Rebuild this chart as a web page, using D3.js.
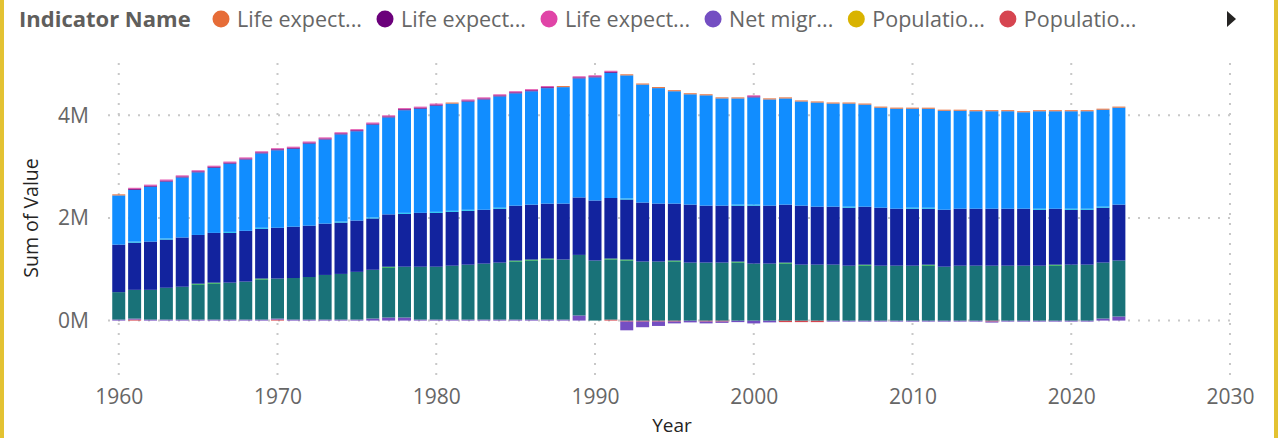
<!DOCTYPE html>
<html>
<head>
<meta charset="utf-8">
<script src="https://cdn.jsdelivr.net/npm/d3@7"></script>
<style>
  html, body { margin: 0; padding: 0; background: #fff; }
  svg { display: block; font-family: "Segoe UI", "Open Sans", sans-serif; }
</style>
</head>
<body>
<div class="canvas"></div>
<script>
// Data (values in millions unless noted)
const years = d3.range(1960, 2024);

const teal = [0.535,0.56,0.58,0.62,0.64,0.68,0.70,0.72,0.74,0.78,
  0.78,0.81,0.83,0.87,0.89,0.93,0.95,0.97,0.99,1.03,
  1.03,1.05,1.07,1.09,1.11,1.13,1.15,1.17,1.17,1.18,
  1.17,1.17,1.17,1.15,1.15,1.15,1.13,1.13,1.13,1.13,
  1.11,1.11,1.11,1.09,1.09,1.09,1.07,1.07,1.07,1.07,
  1.07,1.07,1.05,1.07,1.07,1.07,1.07,1.07,1.07,1.07,
  1.09,1.09,1.09,1.09];

const darkBlue = [0.925,0.92,0.94,0.94,0.96,0.95,0.97,0.97,0.99,0.97,
  0.99,1.00,1.00,1.00,1.00,1.00,1.00,1.02,1.03,1.05,
  1.05,1.05,1.05,1.05,1.05,1.07,1.07,1.07,1.09,1.12,
  1.17,1.18,1.17,1.15,1.13,1.11,1.13,1.11,1.11,1.09,
  1.13,1.13,1.13,1.15,1.13,1.13,1.13,1.13,1.13,1.11,
  1.11,1.09,1.11,1.11,1.11,1.11,1.11,1.11,1.09,1.09,
  1.07,1.07,1.07,1.09];

const blue = [0.96,1.01,1.07,1.11,1.17,1.22,1.27,1.33,1.39,1.45,
  1.51,1.52,1.60,1.64,1.70,1.74,1.81,1.89,2.00,2.03,
  2.07,2.09,2.11,2.15,2.17,2.19,2.21,2.25,2.27,2.32,
  2.40,2.44,2.40,2.30,2.25,2.19,2.15,2.15,2.09,2.07,
  2.09,2.07,2.07,2.03,2.03,2.01,2.01,1.99,1.95,1.95,
  1.93,1.93,1.93,1.91,1.90,1.90,1.90,1.88,1.90,1.90,
  1.90,1.90,1.89,1.89];

const netMigration = [0.004,0.004,0.004,0.004,0.004,0.004,0.004,0.004,0.004,0.004,
  0.004,0.004,0.004,0.004,0.004,0.004,0.04,0.06,0.06,0.004,
  0.004,0.004,0.004,0.004,0.004,0.004,0.004,0.004,0.004,0.10,
  0,0,-0.17,-0.11,-0.085,-0.035,-0.035,-0.035,-0.025,-0.03,
  -0.055,-0.035,0,0,0,-0.004,-0.004,-0.004,-0.004,-0.004,
  -0.004,-0.004,-0.004,-0.004,-0.004,-0.004,-0.004,-0.004,-0.004,-0.004,
  -0.004,-0.004,0.04,0.08];

const popGrowth = [0,0.004,0,0,0,0,0,0,0,0,
  0.004,0,0,0,0,0,0,0,0,0,
  0,0,0,0,0,0,0,0,0,0,
  0,0.004,-0.004,-0.004,-0.004,-0.004,0,-0.004,-0.004,0,
  0,0,-0.03,-0.03,-0.03,0,0,0,0,0,
  0,0,0,0,0,-0.004,0,0,0,0,
  0,0,0,0];

const green = [0,0,0,0,0,0.004,0.004,0,0,0.004,
  0,0,0,0,0,0,0,0.004,0,0,
  0,0,0,0,0,0.004,0.004,0.004,0,0,
  0,0.004,0.004,0,0,0.004,0,0,0,0.004,
  0,0,0.004,0,0,0,0,0.004,0,0,
  0,0.004,0,0,0,0,0,0,0,0.004,
  0,0,0,0];

const cyan = [0,0.004,0,0.004,0,0,0,0.004,0,0.004,
  0,0,0,0,0.004,0,0.004,0,0.004,0,
  0.004,0.004,0.004,0,0.004,0,0,0,0,0,
  0,0,0.004,0,0,0,0,0,0,0.004,
  0.004,0,0,0,0,0,0.004,0,0,0,
  0.004,0.004,0,0,0,0,0,0,0.004,0,
  0.004,0.004,0.004,0];

// life expectancy (years)
const lifeExpTotal = [64.2,null,null,null,null,null,null,null,null,null,
  null,null,null,null,null,null,null,null,null,null,
  null,68.9,null,null,null,null,null,null,69.6,null,
  null,null,68.1,67.9,67.6,68.0,68.4,68.9,69.2,69.5,
  null,69.8,70.1,70.3,70.6,70.9,71.1,71.4,71.6,71.9,
  72.1,72.4,72.6,72.8,73.0,73.2,73.4,73.6,73.8,73.1,
  72.4,73.5,74.0,74.3];
const lifeExpMale = [null,62.0,62.3,62.6,62.9,63.1,63.3,63.5,63.7,63.9,
  64.0,64.2,64.4,64.6,64.8,65.0,65.1,65.3,65.5,65.6,
  65.8,null,66.0,66.2,66.4,66.5,66.7,66.8,null,66.9,
  66.8,66.5,null,null,null,null,null,null,null,null,
  66.2,null,null,null,null,null,null,null,null,null,
  null,null,null,null,null,null,null,null,null,null,
  null,null,null,null];
const lifeExpFemale = [null,68.0,68.4,68.7,69.0,69.3,69.5,69.8,70.0,70.2,
  70.4,70.6,70.8,71.0,71.2,71.4,71.5,71.7,71.9,72.0,
  72.2,null,72.4,72.5,72.7,72.8,73.0,73.1,null,73.2,
  73.1,72.9,null,null,null,null,null,null,null,null,
  73.5,null,null,null,null,null,null,null,null,null,
  null,null,null,null,null,null,null,null,null,null,
  null,null,null,null];

const legendNames = ['Life expect...','Life expect...','Life expect...','Net migr...','Populatio...','Populatio...'];
const legendColors = ['#E66C37','#6B007B','#E044A7','#744EC2','#D9B300','#D64550'];

const yTicks = [0, 2e6, 4e6];
const xTicks = [1960, 1970, 1980, 1990, 2000, 2010, 2020, 2030];

// stack order (bottom -> top); scale: multiplier to raw units
const series = [
  {values: popGrowth, color: '#D64550', scale: 1e6},
  {values: netMigration, color: '#744EC2', scale: 1e6},
  {values: teal, color: '#197278', scale: 1e6},
  {values: green, color: '#1AAB40', scale: 1e6},
  {values: darkBlue, color: '#12239E', scale: 1e6},
  {values: cyan, color: '#15C6F4', scale: 1e6},
  {values: blue, color: '#118DFF', scale: 1e6},
  {values: lifeExpTotal, color: '#E66C37', scale: 1},
  {values: lifeExpMale, color: '#6B007B', scale: 1},
  {values: lifeExpFemale, color: '#E044A7', scale: 1}
];

// Set up
const svgWidth = 1284;
const svgHeight = 438;

const svg = d3.select('.canvas')
  .append('svg')
  .attr('width', svgWidth)
  .attr('height', svgHeight);

const x = d3.scaleLinear().domain([1960, 2030]).range([118.75, 1230]);
const y = d3.scaleLinear().domain([-1e6, 5e6]).range([371.9, 64.0]);

const barWidth = 13;
const minPx = 1;

// gridlines
const grid = svg.append('g').attr('class', 'grid');
grid.selectAll('line.v')
  .data(xTicks)
  .join('line')
  .attr('class', 'v')
  .attr('x1', d => x(d)).attr('x2', d => x(d))
  .attr('y1', 63).attr('y2', 375)
  .attr('stroke', '#C8C8C8')
  .attr('stroke-width', 2)
  .attr('stroke-dasharray', '2 8');

grid.selectAll('line.h')
  .data(yTicks)
  .join('line')
  .attr('class', 'h')
  .attr('x1', 108).attr('x2', 1232)
  .attr('y1', d => y(d)).attr('y2', d => y(d))
  .attr('stroke', '#C8C8C8')
  .attr('stroke-width', 2)
  .attr('stroke-dasharray', '2 8');

// build stacked segments in pixel space (small values get a minimum height)
const segments = [];
years.forEach((yr, i) => {
  let posY = y(0);
  let negY = y(0);
  series.forEach(s => {
    const v = s.values[i];
    if (v == null || v === 0) return;
    const raw = v * s.scale;
    const h = Math.max(Math.abs(y(raw) - y(0)), minPx);
    if (raw > 0) {
      segments.push({year: yr, y: posY - h, h: h, color: s.color});
      posY -= h;
    } else {
      segments.push({year: yr, y: negY, h: h, color: s.color});
      negY += h;
    }
  });
});

svg.append('g').attr('class', 'bars')
  .selectAll('rect')
  .data(segments)
  .join('rect')
  .attr('x', d => x(d.year) - barWidth / 2)
  .attr('y', d => d.y)
  .attr('width', barWidth)
  .attr('height', d => d.h)
  .attr('fill', d => d.color);

// Axes
const yAxis = d3.axisLeft(y)
  .tickValues(yTicks)
  .tickSize(0)
  .tickPadding(19)
  .tickFormat(d => (d / 1e6) + 'M');

const xAxis = d3.axisBottom(x)
  .tickValues(xTicks)
  .tickSize(0)
  .tickPadding(13)
  .tickFormat(d3.format('d'));

const yAxisGroup = svg.append('g')
  .attr('transform', 'translate(108,0)')
  .call(yAxis);
const xAxisGroup = svg.append('g')
  .attr('transform', 'translate(0,376)')
  .call(xAxis);

[yAxisGroup, xAxisGroup].forEach(g => {
  g.select('.domain').remove();
  g.selectAll('text')
    .attr('fill', '#666666')
    .style('font-size', '21px')
    .style('font-family', '"Segoe UI", "Open Sans", sans-serif');
});

// Axis titles
svg.append('text')
  .attr('transform', 'translate(38,218) rotate(-90)')
  .attr('text-anchor', 'middle')
  .attr('fill', '#252423')
  .style('font-size', '19.5px')
  .text('Sum of Value');

svg.append('text')
  .attr('x', 672)
  .attr('y', 432)
  .attr('text-anchor', 'middle')
  .attr('fill', '#252423')
  .style('font-size', '19px')
  .text('Year');

// Legend
const legend = svg.append('g').attr('class', 'legend');
legend.append('text')
  .attr('x', 19)
  .attr('y', 27)
  .attr('fill', '#605E5C')
  .style('font-size', '22px')
  .style('font-weight', 'bold')
  .text('Indicator Name');

let cx = 221;
legendNames.forEach((name, i) => {
  legend.append('circle')
    .attr('cx', cx)
    .attr('cy', 19)
    .attr('r', 8.5)
    .attr('fill', legendColors[i]);
  const t = legend.append('text')
    .attr('x', cx + 16)
    .attr('y', 27)
    .attr('fill', '#666666')
    .style('font-size', '21.5px')
    .text(name);
  cx = cx + 16 + t.node().getComputedTextLength() + 23;
});

legend.append('path')
  .attr('d', 'M1227,11 L1236,19 L1227,27 Z')
  .attr('fill', '#252423');

// yellow frame sides
svg.append('rect').attr('x', 0).attr('y', 0).attr('width', 4).attr('height', svgHeight).attr('fill', '#E3C232');
svg.append('rect').attr('x', 1274).attr('y', 0).attr('width', 4).attr('height', svgHeight).attr('fill', '#E3C232');
</script>
</body>
</html>
